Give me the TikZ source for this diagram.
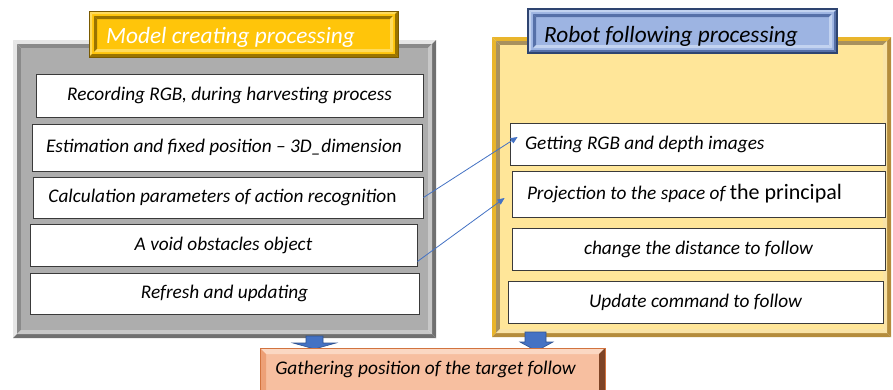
\documentclass[tikz,border=0pt]{standalone}
\usepackage{fontspec}
\setmainfont{Carlito}
\usetikzlibrary{arrows.meta,calc}

\definecolor{boxline}{HTML}{3A3A3A}
\definecolor{linkblue}{HTML}{4472C4}
\definecolor{arrowfill}{HTML}{4472C4}
\definecolor{arrowedge}{HTML}{2F528F}
% grey frame
\definecolor{greyhi}{HTML}{E6E6E6}
\definecolor{greylo}{HTML}{707070}
\definecolor{greyinhi}{HTML}{C8C8C8}
\definecolor{greyinlo}{HTML}{8A8A8A}
\definecolor{greyface}{HTML}{ADADAD}
% yellow frame
\definecolor{goldhi}{HTML}{E9B52C}
\definecolor{goldlo}{HTML}{B48C3C}
\definecolor{goldinhi}{HTML}{F9E3A6}
\definecolor{goldinlo}{HTML}{A8915E}
\definecolor{goldface}{HTML}{FFE699}
% title plates
\definecolor{ambface}{HTML}{FFC50A}
\definecolor{ambedge}{HTML}{7A5A00}
\definecolor{ambhi}{HTML}{FFDB5C}
\definecolor{amblo}{HTML}{9A7400}
\definecolor{bluface}{HTML}{9DB4E2}
\definecolor{bluedge}{HTML}{2E4470}
\definecolor{bluhi}{HTML}{C3D3F0}
\definecolor{blulo}{HTML}{5670A8}
% bottom plate
\definecolor{peachface}{HTML}{F7BFA0}
\definecolor{peachhi}{HTML}{FBD8C3}
\definecolor{peachleft}{HTML}{EDA077}
\definecolor{peachlo}{HTML}{7E4426}
\definecolor{peachedge}{HTML}{D2733F}

% bevelled band: x1 y1 x2 y2 width top/left-colour bottom/right-colour
\newcommand{\bevelband}[7]{%
  \fill[#6] (#1,#2) -- (#3,#2) -- (#3-#5,#2+#5) -- (#1+#5,#2+#5) -- cycle;
  \fill[#6] (#1,#2) -- (#1+#5,#2+#5) -- (#1+#5,#4-#5) -- (#1,#4) -- cycle;
  \fill[#7] (#3,#2) -- (#3,#4) -- (#3-#5,#4-#5) -- (#3-#5,#2+#5) -- cycle;
  \fill[#7] (#1,#4) -- (#3,#4) -- (#3-#5,#4-#5) -- (#1+#5,#4-#5) -- cycle;
}

\tikzset{
  box/.style={draw=boxline, fill=white, line width=0.9pt, inner sep=0pt,
    font=\itshape\fontsize{19.3}{22}\selectfont},
  titletext/.style={inner sep=0pt, anchor=base west,
    font=\itshape\fontsize{23.3}{26}\selectfont},
  link/.style={draw=linkblue, line width=0.8pt,
    -{Triangle[length=7pt,width=6pt]}},
  blockarrow/.style={fill=arrowfill, draw=arrowedge, line width=0.6pt}
}

\begin{document}
\begin{tikzpicture}[x=1pt,y=-1pt]
\clip (0,0) rectangle (893,389);
\fill[white] (0,0) rectangle (893,389);

% left frame (grey)
\bevelband{13}{40}{436}{338}{4}{greyhi}{greylo}
\bevelband{17}{44}{432}{334}{4}{greyinlo}{greyinhi}
\fill[greyface] (21,48) rectangle (428,330);

% right frame (yellow)
\bevelband{492}{37}{891}{337}{4}{goldhi}{goldlo}
\bevelband{496}{41}{887}{333}{4}{goldinlo}{goldinhi}
\fill[goldface] (500,45) rectangle (883,329);

% amber title plate
\fill[ambface] (89,11) rectangle (398,57);
\bevelband{89}{11}{398}{57}{3}{ambhi}{amblo}
\bevelband{94}{16}{393}{52}{3}{amblo}{ambhi}
\draw[ambedge, line width=1pt] (89,11) rectangle (398,57);
\node[titletext, text=white] (mtitle) at (106,43) {Model creating processing};

% blue title plate
\fill[bluface] (528,9) rectangle (837,53);
\bevelband{528}{9}{837}{53}{3}{bluhi}{blulo}
\bevelband{533}{14}{832}{48}{3}{blulo}{bluhi}
\draw[bluedge, line width=1.2pt] (528,9) rectangle (837,53);
\node[titletext, text=black] (rtitle) at (544,42) {Robot following processing};

% steps of the model creation
\node[box, minimum width=387pt, minimum height=43pt] (l1) at (229.5,95.5)
  {Recording RGB, during harvesting process};
\node[box, minimum width=390pt, minimum height=47pt] (l2) at (227,147.5)
  {\hspace*{-6pt}Estimation and fixed position – 3D\_dimension};
\node[box, minimum width=390pt, minimum height=41pt] (l3) at (228,197.5)
  {\hspace*{-11pt}Calculation parameters of action recognitio\textup{n}};
\node[box, minimum width=387pt, minimum height=42pt] (l4) at (223.5,245)
  {A void obstacles object};
\node[box, minimum width=389pt, minimum height=41pt] (l5) at (224.5,293.5)
  {Refresh and updating};

% steps of the robot following
\node[box, minimum width=375pt, minimum height=42pt] (r1) at (697.5,144)
  {\makebox[345pt][l]{Getting RGB and depth images}};
\node[box, minimum width=373pt, minimum height=46pt] (r2) at (698.5,194)
  {\makebox[343pt][l]{Projection to the space of {\upshape\fontsize{22}{24}\selectfont the principal}}};
\node[box, minimum width=373pt, minimum height=42pt] (r3) at (698.5,249)
  {change the distance to follow};
\node[box, minimum width=375pt, minimum height=42pt] (r4) at (695.5,302)
  {Update command to follow};

% links between the two columns
\coordinate (t1) at ($(r1.west)+(8,-7)$);
\coordinate (t2) at ($(r2.west)+(-7,4)$);
\coordinate (s2) at ($(l4.south east)+(0,-5)$);
\draw[link] (l3.east) -- (t1);
\draw[link] (s2) -- (t2);

% block arrows down to the result
\draw[blockarrow] (306,336) -- (323,336) -- (323,343) -- (336,343) -- (314.5,349)
  -- (293,343) -- (306,343) -- cycle;
\draw[blockarrow] (525,332) -- (546,332) -- (546,342) -- (553,342) -- (536.5,351)
  -- (520,342) -- (525,342) -- cycle;

% result plate
\fill[peachface] (260,348) rectangle (605,395);
\fill[peachhi] (260,348) -- (605,348) -- (599,354) -- (266,354) -- cycle;
\fill[peachleft] (260,348) -- (266,354) -- (266,395) -- (260,395) -- cycle;
\fill[peachlo] (605,348) -- (605,395) -- (599,395) -- (599,354) -- cycle;
\draw[peachedge, line width=0.8pt] (260,348) rectangle (605,395);
\node[inner sep=0pt, font=\itshape\fontsize{19.3}{22}\selectfont] (gp)
  at (425.5,369.5) {Gathering position of the target follow};
\end{tikzpicture}
\end{document}
